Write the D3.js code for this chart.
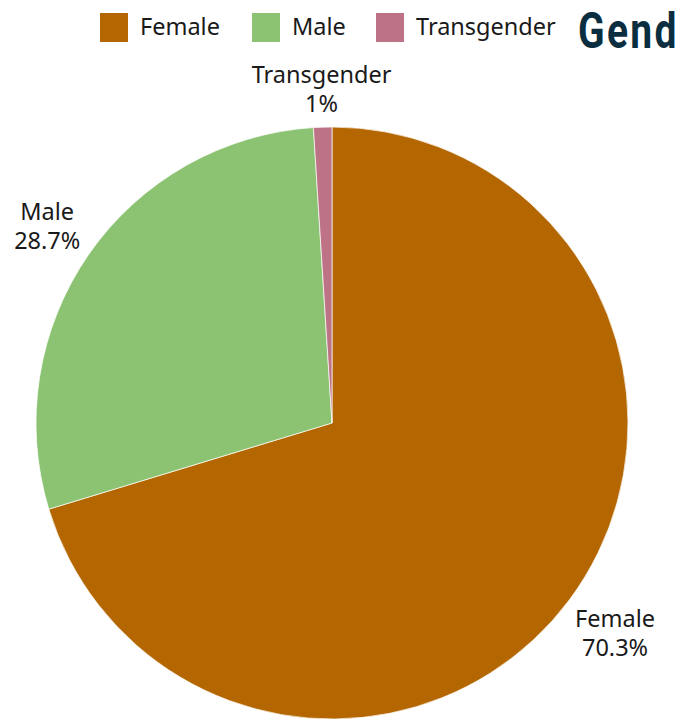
<!DOCTYPE html>
<html>
<head>
<meta charset="utf-8">
<script src="https://cdn.jsdelivr.net/npm/d3@7"></script>
<style>
  html, body { margin: 0; padding: 0; background: #ffffff; }
  svg { display: block; }
</style>
</head>
<body>
<svg id="chart" width="675" height="721"></svg>
<script>
const categories = ["Female", "Male", "Transgender"];
const values = [70.3, 28.7, 1.0];
const valueLabels = ["70.3%", "28.7%", "1%"];
const colors = ["#b46600", "#8cc372", "#bd7285"];
const title = "Gender";

const W = 675, H = 721;
const svg = d3.select("#chart");
const font = "'Noto Sans', 'Open Sans', sans-serif";

const cx = 332, cy = 423, r = 296;

const data = categories.map((c, i) => ({ cat: c, value: values[i], label: valueLabels[i], color: colors[i] }));

const pie = d3.pie().sort(null).value(d => d.value).startAngle(0).endAngle(2 * Math.PI);
const arcs = pie(data);
const arc = d3.arc().innerRadius(0).outerRadius(r);

const g = svg.append("g").attr("transform", `translate(${cx},${cy})`);
g.selectAll("path.slice").data(arcs).join("path")
  .attr("class", "slice")
  .attr("d", arc)
  .attr("fill", d => d.data.color)
  .attr("stroke", "#ffffff")
  .attr("stroke-width", 0.7);

// labels outside
const fs = 23.5, lh = 29;
arcs.forEach(a => {
  const mid = (a.startAngle + a.endAngle) / 2;
  const s = Math.sin(mid), c = Math.cos(mid);
  const t = g.append("text")
    .attr("font-family", font)
    .attr("font-size", fs)
    .attr("fill", "#1a1a1a")
    .attr("text-anchor", "middle");
  t.append("tspan").attr("x", 0).attr("dy", 0).text(a.data.cat);
  t.append("tspan").attr("x", 0).attr("dy", lh).text(a.data.label);
  const bb = t.node().getBBox();
  const halfW = bb.width / 2, halfH = bb.height / 2;
  const dist = r + 6 + Math.abs(s) * halfW + Math.abs(c) * halfH;
  const px = dist * s, py = -dist * c;
  const boxCy = bb.y + bb.height / 2;
  t.attr("transform", `translate(${px},${py - boxCy})`);
});

// legend
const legendX = [100, 252, 376];
const legend = svg.append("g");
data.forEach((d, i) => {
  legend.append("rect")
    .attr("x", legendX[i]).attr("y", 13)
    .attr("width", 28).attr("height", 29)
    .attr("fill", d.color);
  legend.append("text")
    .attr("x", legendX[i] + 40).attr("y", 35)
    .attr("font-family", font).attr("font-size", 23.5)
    .attr("fill", "#1a1a1a")
    .text(d.cat);
});

// title (clipped at right edge, as in the reference)
svg.append("text")
  .attr("transform", "translate(578,48) scale(0.78,1)")
  .attr("font-family", "Roboto, 'DejaVu Sans', sans-serif")
  .attr("font-weight", "bold")
  .attr("font-size", 50)
  .attr("letter-spacing", 3)
  .attr("fill", "#0b2d40")
  .text(title);
</script>
</body>
</html>
